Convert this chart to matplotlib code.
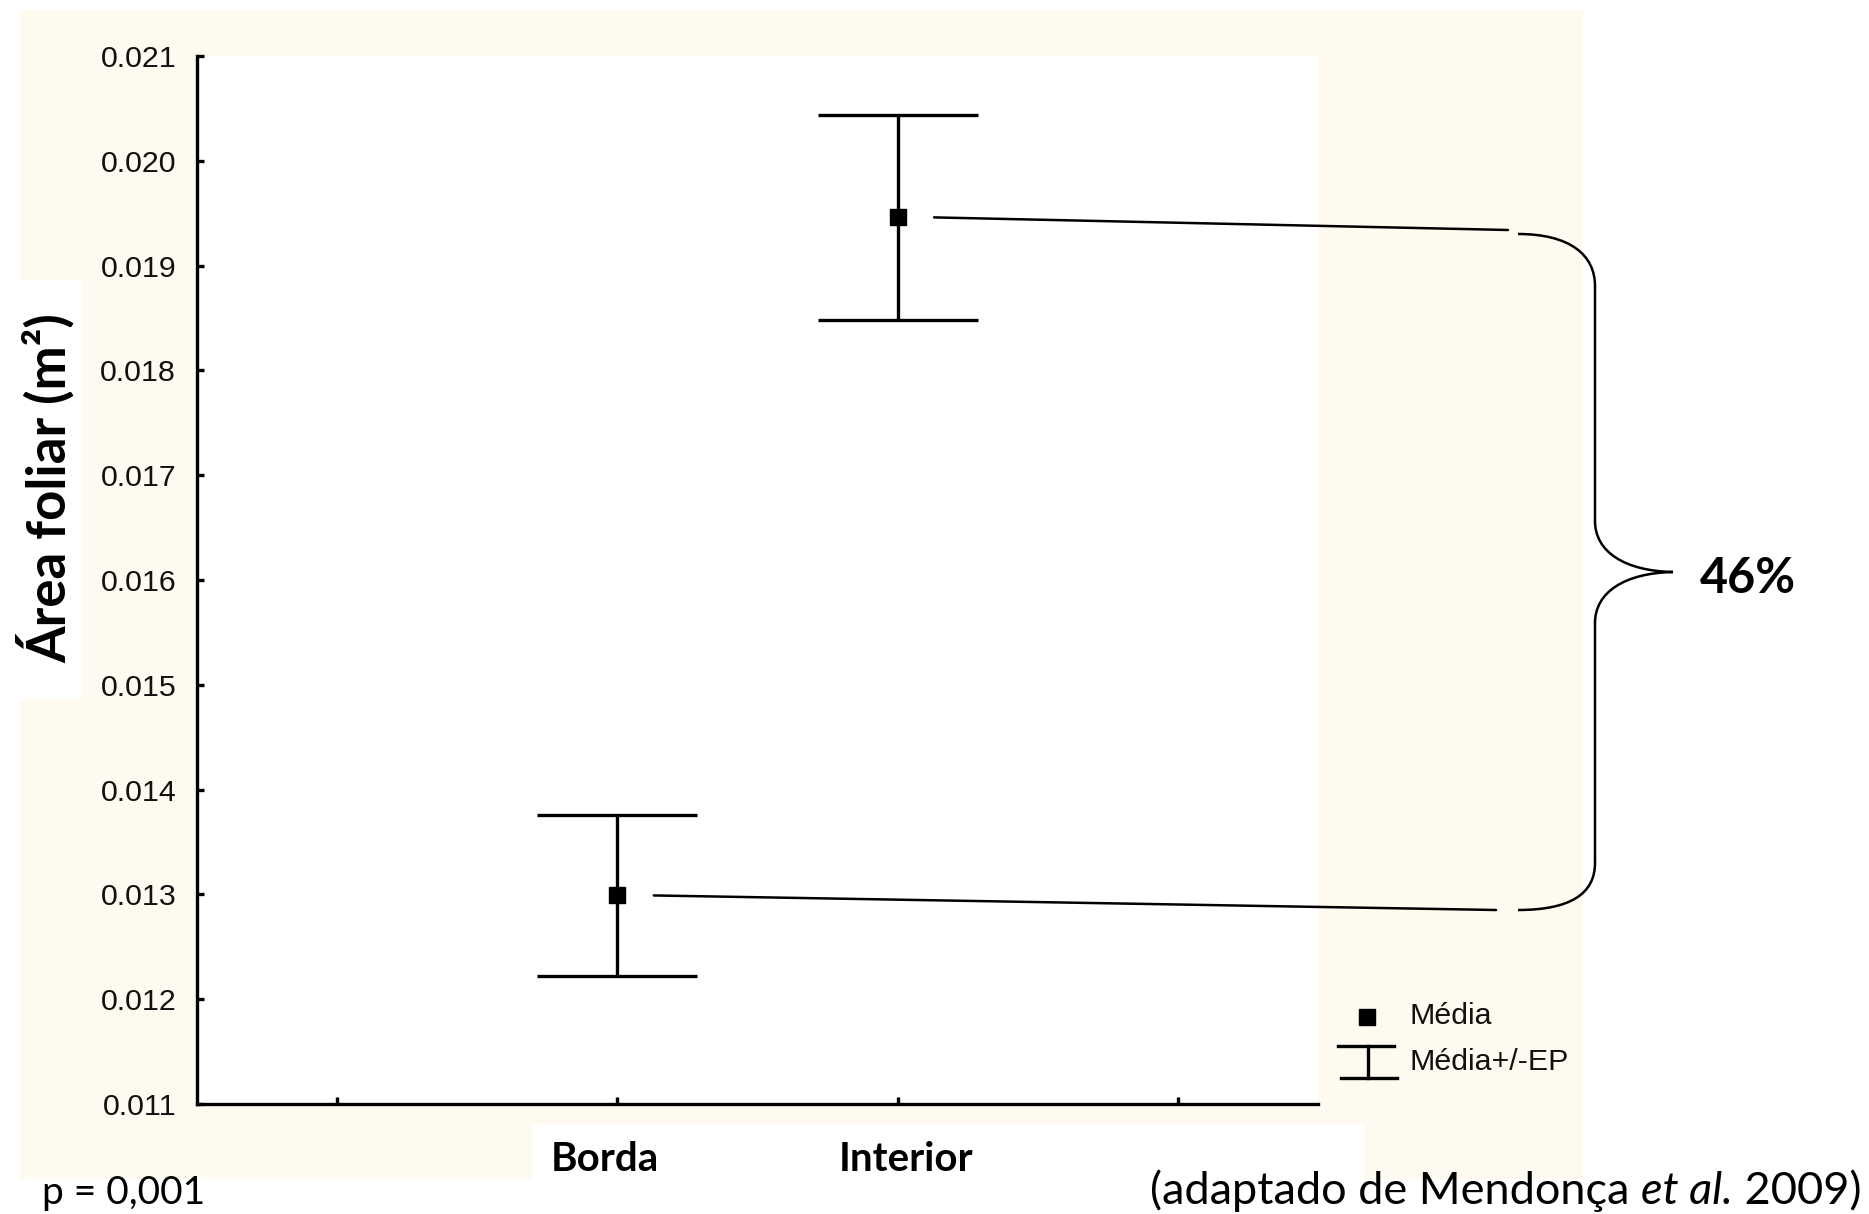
import matplotlib.pyplot as plt
from matplotlib.patches import Rectangle, PathPatch, ConnectionPatch
from matplotlib.path import Path
from matplotlib.lines import Line2D
from matplotlib.ticker import FormatStrFormatter
from matplotlib.transforms import blended_transform_factory, offset_copy

# leaf area per site: mean +/- standard error (m2)
sites = ['Borda', 'Interior']
site_pos = [2, 3]
mean_area = [0.01299, 0.01946]
se_area = [0.00077, 0.00098]

x_ticks = [1, 2, 3, 4]
y_ticks = [0.011, 0.012, 0.013, 0.014, 0.015, 0.016, 0.017, 0.018, 0.019, 0.020, 0.021]

diff_text = '46%'
p_text = 'p = 0,001'

W, H, DPI = 1869, 1214, 100
cream = '#fffaef'
calibri_like = 'Lato'
sans = 'Liberation Sans'


def fx(x):
    return x / W


def fy(y):
    return 1 - y / H


def box(x0, y0, x1, y1, color, z):
    fig.add_artist(Rectangle((fx(x0), fy(y1)), (x1 - x0) / W, (y1 - y0) / H,
                             transform=fig.transFigure, facecolor=color,
                             edgecolor='none', zorder=z))


fig = plt.figure(figsize=(W / DPI, H / DPI), dpi=DPI)

# page background blocks
box(20, 10, 1583, 1179, cream, -3)
box(20, 280, 82, 699, 'white', -2)
box(532, 1124, 1364, 1214, 'white', -2)

ax = fig.add_axes([fx(197), fy(1104), (1318 - 197) / W, (1104 - 56) / H])
ax.set_facecolor('white')

ax.errorbar(site_pos, mean_area, yerr=se_area, fmt='s', color='black',
            ms=12, elinewidth=2.4, capsize=57.6, capthick=2.4)

ax.set_xlim(0.5, 4.5)
ax.set_ylim(0.011, 0.021)
ax.set_yticks(y_ticks)
ax.yaxis.set_major_formatter(FormatStrFormatter('%.3f'))
ax.set_xticks(x_ticks)
ax.set_xticklabels([])
for lbl in ax.get_yticklabels():
    lbl.set_family(sans)
    lbl.set_fontsize(21.9)
    lbl.set_color('#111111')

# site names under the axis, nudged a little like the original layout
xlab_tr = blended_transform_factory(ax.transData, ax.transAxes)
for name, xp, dx in zip(sites, site_pos, [-9, 6]):
    ax.text(xp, 0, name, ha='center', va='center', fontsize=29,
            fontweight='bold', family=calibri_like,
            transform=offset_copy(xlab_tr, fig=fig, x=dx, y=-40, units='points'))

for side in ['top', 'right']:
    ax.spines[side].set_visible(False)
for side in ['left', 'bottom']:
    ax.spines[side].set_linewidth(2.4)
ax.tick_params(direction='in', length=5, width=2.4)
ax.tick_params(axis='y', pad=15)

# lines from each mean to the brace
brace_ends = [(1496, 910), (1508, 230)]
for xp, m, (bx, by) in zip(site_pos, mean_area, brace_ends):
    con = ConnectionPatch(xyA=(xp + 0.13, m), coordsA=ax.transData,
                          xyB=(fx(bx), fy(by)), coordsB=fig.transFigure,
                          color='black', lw=1.8)
    fig.add_artist(con)

# curly brace
pts = [(1518, 234), (1570, 234), (1595, 255), (1595, 286),
       (1595, 521),
       (1595, 552), (1625, 571), (1673, 572),
       (1625, 573), (1595, 592), (1595, 623),
       (1595, 863),
       (1595, 894), (1570, 910), (1518, 910)]
codes = [Path.MOVETO, Path.CURVE4, Path.CURVE4, Path.CURVE4,
         Path.LINETO,
         Path.CURVE4, Path.CURVE4, Path.CURVE4,
         Path.CURVE4, Path.CURVE4, Path.CURVE4,
         Path.LINETO,
         Path.CURVE4, Path.CURVE4, Path.CURVE4]
brace = Path([(fx(x), fy(y)) for x, y in pts], codes)
fig.add_artist(PathPatch(brace, transform=fig.transFigure, facecolor='none',
                         edgecolor='black', lw=1.8))
fig.text(fx(1748), fy(578), diff_text, ha='center', va='center',
         fontsize=35, fontweight='bold', family=calibri_like)

# legend
fig.add_artist(Line2D([fx(1367)], [fy(1017)], marker='s', ms=12, ls='none',
                      color='black', transform=fig.transFigure))
for xs, ys in [((1338, 1394), (1046, 1046)), ((1368, 1368), (1046, 1078)),
               ((1341, 1397), (1078, 1078))]:
    fig.add_artist(Line2D([fx(v) for v in xs], [fy(v) for v in ys], lw=2.4,
                          color='black', transform=fig.transFigure))
fig.text(fx(1409), fy(1016), 'Média', va='center', fontsize=21.9,
         family=sans, color='#111111')
fig.text(fx(1409), fy(1062), 'Média+/-EP', va='center', fontsize=21.9,
         family=sans, color='#111111')

# axis title
fig.text(fx(46), fy(488), 'Área foliar (m²)', rotation=90, ha='center',
         va='center', fontsize=38, fontweight='bold', family=calibri_like)

# footer
fig.text(fx(42), fy(1204), p_text, va='baseline', fontsize=28,
         family=calibri_like)
t1 = fig.text(fx(1150), fy(1204), '(adaptado de Mendonça ', va='baseline',
              fontsize=32.5, family=calibri_like)
t2 = ax.annotate('et al.', xy=(1, 0), xycoords=t1, va='bottom', ha='left',
                 fontsize=32.5, family=calibri_like, style='italic')
ax.annotate(' 2009)', xy=(1, 0), xycoords=t2, va='bottom', ha='left',
            fontsize=32.5, family=calibri_like)

fig.savefig('out.png', dpi=DPI)
